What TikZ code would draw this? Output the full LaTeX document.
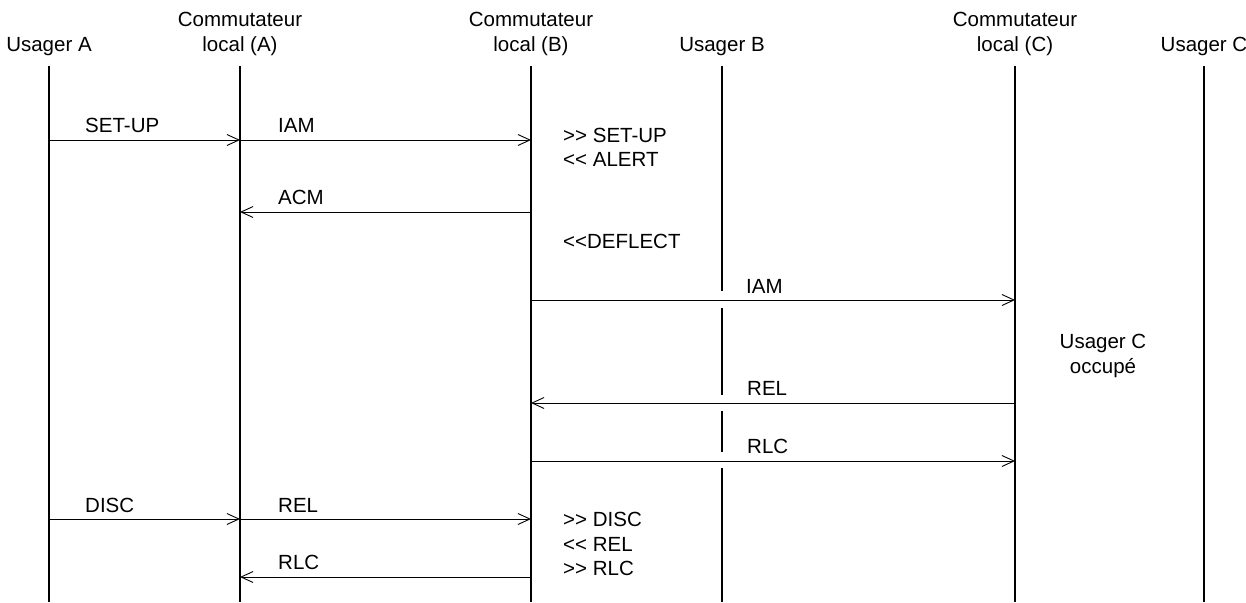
\documentclass[tikz,border=0pt]{standalone}
\usepackage{fontspec}
\setmainfont{Liberation Sans}
\usetikzlibrary{arrows.meta}
\begin{document}
\begin{tikzpicture}[x=1pt,y=-1pt,
  life/.style={line width=2pt},
  msg/.style={line width=0.9pt,-{Straight Barb[length=12pt,width=11pt,line width=0.9pt]}},
  lbl/.style={inner sep=0pt,anchor=base west,font=\fontsize{20.5}{24}\selectfont},
  hdr/.style={inner sep=0pt,anchor=base,align=center,font=\fontsize{20.5}{25}\selectfont}]
\useasboundingbox (0,0) rectangle (1246,602);
\fill[white] (0,0) rectangle (1246,602);
% headers
\node[hdr] (hA) at (49,52) {Usager A};
\node[hdr] (hCA) at (240,52) {Commutateur\\local (A)};
\node[hdr] (hCB) at (531,52) {Commutateur\\local (B)};
\node[hdr] (hB) at (722,52) {Usager B};
\node[hdr] (hCC) at (1015,52) {Commutateur\\local (C)};
\node[hdr] (hC) at (1204,52) {Usager C};
% lifelines
\coordinate (A0) at (49,66);   \coordinate (A1) at (49,602);
\coordinate (CA0) at (240,66); \coordinate (CA1) at (240,602);
\coordinate (CB0) at (531,66); \coordinate (CB1) at (531,602);
\coordinate (CC0) at (1015,66);\coordinate (CC1) at (1015,602);
\coordinate (C0) at (1204,66); \coordinate (C1) at (1204,602);
\coordinate (B0) at (722,66);  \coordinate (Bg1) at (722,291);
\coordinate (Bg2) at (722,308); \coordinate (Bg3) at (722,395);
\coordinate (Bg4) at (722,411); \coordinate (Bg5) at (722,452);
\coordinate (Bg6) at (722,468); \coordinate (B1) at (722,602);
\draw[life] (A0) -- (A1);
\draw[life] (CA0) -- (CA1);
\draw[life] (CB0) -- (CB1);
\draw[life] (CC0) -- (CC1);
\draw[life] (C0) -- (C1);
\draw[life] (B0) -- (Bg1);
\draw[life] (Bg2) -- (Bg3);
\draw[life] (Bg4) -- (Bg5);
\draw[life] (Bg6) -- (B1);
% message endpoints
\coordinate (m1a) at (49,140);  \coordinate (m1b) at (240,140); \coordinate (m1c) at (531,140);
\coordinate (m2a) at (531,212); \coordinate (m2b) at (240,212);
\coordinate (m3a) at (531,300); \coordinate (m3b) at (1015,300);
\coordinate (m4a) at (1015,403); \coordinate (m4b) at (531,403);
\coordinate (m5a) at (531,461); \coordinate (m5b) at (1015,461);
\coordinate (m6a) at (49,519);  \coordinate (m6b) at (240,519); \coordinate (m6c) at (531,519);
\coordinate (m7a) at (531,577); \coordinate (m7b) at (240,577);
\draw[msg] (m1a) -- (m1b);
\draw[msg] (m1b) -- (m1c);
\draw[msg] (m2a) -- (m2b);
\draw[msg] (m3a) -- (m3b);
\draw[msg] (m4a) -- (m4b);
\draw[msg] (m5a) -- (m5b);
\draw[msg] (m6a) -- (m6b);
\draw[msg] (m6b) -- (m6c);
\draw[msg] (m7a) -- (m7b);
% labels
\node[lbl] (l1) at (85,132) {SET-UP};
\node[lbl] (l2) at (278,132) {IAM};
\node[lbl] (l3) at (278,204) {ACM};
\node[lbl] (l4) at (746,293) {IAM};
\node[lbl] (l5) at (747,395) {REL};
\node[lbl] (l6) at (747,453) {RLC};
\node[lbl] (l7) at (85,512) {DISC};
\node[lbl] (l8) at (278,512) {REL};
\node[lbl] (l9) at (278,569) {RLC};
% notes
\node[lbl] (n1) at (563,142) {>{}> SET-UP};
\node[lbl] (n2) at (563,166) {<{}< ALERT};
\node[lbl] (n3) at (563,248) {<{}<DEFLECT};
\node[hdr] (n4) at (1103,373) {Usager C\\occupé};
\node[lbl] (n5) at (563,526) {>{}> DISC};
\node[lbl] (n6) at (563,551) {<{}< REL};
\node[lbl] (n7) at (563,575) {>{}> RLC};
\end{tikzpicture}
\end{document}
